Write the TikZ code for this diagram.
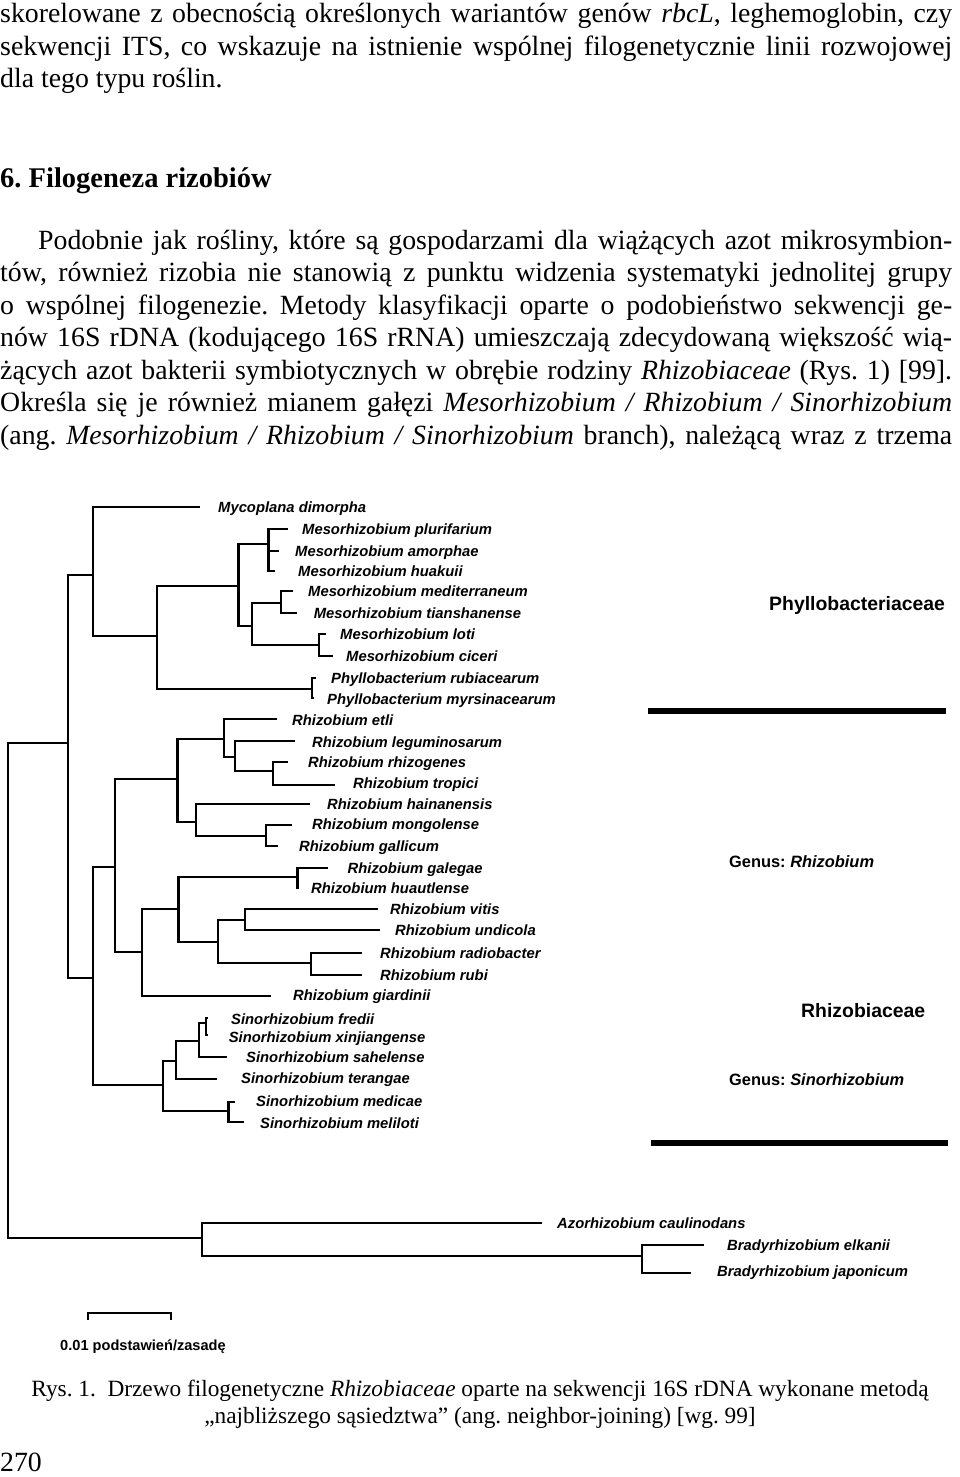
\documentclass[tikz,border=0pt]{standalone}
\usepackage{fontspec}
\setmainfont{Liberation Serif}
\newfontfamily\taxfont{Liberation Sans}
\usetikzlibrary{positioning}
\frenchspacing

\begin{document}
\begin{tikzpicture}[x=1pt, y=-1pt,
        bodyline/.style={anchor=base west, inner sep=0pt, font=\fontsize{27.8}{33}\selectfont},
        capline/.style={anchor=base, inner sep=0pt, font=\fontsize{23.3}{28}\selectfont},
        branch/.style={line width=2.9pt},
        taxon/.style={anchor=base west, inner sep=0pt, yshift=-5.3pt, font=\taxfont\bfseries\itshape\fontsize{14.8}{16}\selectfont},
        family/.style={anchor=base west, inner sep=0pt, font=\taxfont\bfseries\fontsize{19.4}{22}\selectfont},
        genus/.style={anchor=base west, inner sep=0pt, font=\taxfont\bfseries\fontsize{16.4}{19}\selectfont},
        bar/.style={line width=6pt}]
        \useasboundingbox (0,0) rectangle (960,1477);

        % text above the figure
        \node[bodyline] (t1) at (0,23) {\makebox[952pt][s]{skorelowane z obecnością określonych wariantów genów \textit{rbcL}, leghemoglobin, czy}};
        \node[bodyline] (t2) at (0,55.5) {\makebox[952pt][s]{sekwencji ITS, co wskazuje na istnienie wspólnej filogenetycznie linii rozwojowej}};
        \node[bodyline] (t3) at (0,88) {dla tego typu roślin.};
        \node[bodyline, font=\bfseries\fontsize{28.5}{34}\selectfont] (head) at (0,187) {6. Filogeneza rizobiów};
        \node[bodyline] (p1) at (38,249) {\makebox[914pt][s]{Podobnie jak rośliny, które są gospodarzami dla wiążących azot mikrosymbion-}};
        \node[bodyline] (p2) at (0,281.5) {\makebox[952pt][s]{tów, również rizobia nie stanowią z punktu widzenia systematyki jednolitej grupy}};
        \node[bodyline] (p3) at (0,314) {\makebox[952pt][s]{o wspólnej filogenezie. Metody klasyfikacji oparte o podobieństwo sekwencji ge-}};
        \node[bodyline] (p4) at (0,346.5) {\makebox[952pt][s]{nów 16S rDNA (kodującego 16S rRNA) umieszczają zdecydowaną większość wią-}};
        \node[bodyline] (p5) at (0,379) {\makebox[952pt][s]{żących azot bakterii symbiotycznych w obrębie rodziny \textit{Rhizobiaceae} (Rys. 1) [99].}};
        \node[bodyline] (p6) at (0,411.5) {\makebox[952pt][s]{Określa się je również mianem gałęzi \textit{Mesorhizobium / Rhizobium / Sinorhizobium}}};
        \node[bodyline] (p7) at (0,444) {\makebox[952pt][s]{(ang. \textit{Mesorhizobium / Rhizobium / Sinorhizobium} branch), należącą wraz z trzema}};

        % inner nodes of the tree
        \coordinate (root) at (8,990);
        \coordinate (nJ) at (68,743);
        \coordinate (nA) at (93,575);
        \coordinate (nB) at (157,636);
        \coordinate (nC) at (238.6,586);
        \coordinate (nD) at (268.6,544);
        \coordinate (nF) at (252,626);
        \coordinate (nG) at (281,603);
        \coordinate (nH) at (319,645);
        \coordinate (nI) at (312,689);
        \coordinate (nK) at (93,978);
        \coordinate (nL) at (115,867);
        \coordinate (nM) at (177.5,779);
        \coordinate (nN) at (224,739);
        \coordinate (nO) at (235,757);
        \coordinate (nP) at (273,771);
        \coordinate (nQ) at (196,822);
        \coordinate (nR) at (266,836);
        \coordinate (nS) at (142,952);
        \coordinate (nT) at (178.6,909);
        \coordinate (nU) at (297.5,877);
        \coordinate (nV) at (218,942);
        \coordinate (nW) at (245,920);
        \coordinate (nX) at (311,963);
        \coordinate (nY) at (163,1085);
        \coordinate (nZ) at (176,1061);
        \coordinate (nAA) at (199,1041);
        \coordinate (nAB) at (206,1023);
        \coordinate (nAC) at (228.6,1111);
        \coordinate (nAD) at (202,1238);
        \coordinate (nAE) at (642,1256);

        % leaves and their names
        \coordinate (myco) at (200,507); \node[taxon] (myco-l) at (218,507) {Mycoplana dimorpha};
        \coordinate (plur) at (287.5,529); \node[taxon] (plur-l) at (302,529) {Mesorhizobium plurifarium};
        \coordinate (amor) at (278.6,551); \node[taxon] (amor-l) at (295,551) {Mesorhizobium amorphae};
        \coordinate (huak) at (275,571); \node[taxon] (huak-l) at (298,571) {Mesorhizobium huakuii};
        \coordinate (medi) at (293,591); \node[taxon] (medi-l) at (308,591) {Mesorhizobium mediterraneum};
        \coordinate (tian) at (297,613); \node[taxon] (tian-l) at (313.6,613) {Mesorhizobium tianshanense};
        \coordinate (loti) at (325.7,634); \node[taxon] (loti-l) at (340,634) {Mesorhizobium loti};
        \coordinate (cice) at (333,656); \node[taxon] (cice-l) at (346,656) {Mesorhizobium ciceri};
        \coordinate (rubia) at (316,678); \node[taxon] (rubia-l) at (331,678) {Phyllobacterium rubiacearum};
        \coordinate (myrs) at (314,698); \node[taxon] (myrs-l) at (327,699) {Phyllobacterium myrsinacearum};
        \coordinate (etli) at (277,719); \node[taxon] (etli-l) at (292,720) {Rhizobium etli};
        \coordinate (legu) at (295,741); \node[taxon] (legu-l) at (312,742) {Rhizobium leguminosarum};
        \coordinate (rhizo) at (287.5,762); \node[taxon] (rhizo-l) at (308,762) {Rhizobium rhizogenes};
        \coordinate (trop) at (335,785); \node[taxon] (trop-l) at (353,783) {Rhizobium tropici};
        \coordinate (hain) at (310,804); \node[taxon] (hain-l) at (327,804) {Rhizobium hainanensis};
        \coordinate (mong) at (292,825); \node[taxon] (mong-l) at (312,824) {Rhizobium mongolense};
        \coordinate (gall) at (278,846); \node[taxon] (gall-l) at (299,846) {Rhizobium gallicum};
        \coordinate (gale) at (328,868); \node[taxon] (gale-l) at (347.5,868) {Rhizobium galegae};
        \coordinate (huau) at (299,888); \node[taxon] (huau-l) at (311,888) {Rhizobium huautlense};
        \coordinate (viti) at (377.5,909); \node[taxon] (viti-l) at (390,909) {Rhizobium vitis};
        \coordinate (undi) at (380,930); \node[taxon] (undi-l) at (395,930) {Rhizobium undicola};
        \coordinate (radi) at (362,953); \node[taxon] (radi-l) at (380,953) {Rhizobium radiobacter};
        \coordinate (rubi) at (362,975); \node[taxon] (rubi-l) at (380,975) {Rhizobium rubi};
        \coordinate (giar) at (271,996); \node[taxon] (giar-l) at (293,995) {Rhizobium giardinii};
        \coordinate (fred) at (208,1018); \node[taxon] (fred-l) at (231,1019) {Sinorhizobium fredii};
        \coordinate (xinj) at (208,1035); \node[taxon] (xinj-l) at (228.6,1037) {Sinorhizobium xinjiangense};
        \coordinate (sahe) at (227,1057); \node[taxon] (sahe-l) at (246,1057) {Sinorhizobium sahelense};
        \coordinate (tera) at (217,1079); \node[taxon] (tera-l) at (241,1078) {Sinorhizobium terangae};
        \coordinate (medc) at (235,1102); \node[taxon] (medc-l) at (256,1101) {Sinorhizobium medicae};
        \coordinate (meli) at (244,1122); \node[taxon] (meli-l) at (260,1123) {Sinorhizobium meliloti};
        \coordinate (azor) at (542,1223); \node[taxon] (azor-l) at (557,1223) {Azorhizobium caulinodans};
        \coordinate (elka) at (704,1245); \node[taxon] (elka-l) at (727,1245) {Bradyrhizobium elkanii};
        \coordinate (japo) at (691,1273); \node[taxon] (japo-l) at (717,1271) {Bradyrhizobium japonicum};

        % branches
        \draw[branch] (root) |- (nJ);
        \draw[branch] (root) |- (nAD);
        \draw[branch] (nJ) |- (nA);
        \draw[branch] (nJ) |- (nK);
        \draw[branch] (nA) |- (myco);
        \draw[branch] (nA) |- (nB);
        \draw[branch] (nB) |- (nC);
        \draw[branch] (nB) |- (nI);
        \draw[branch] (nC) |- (nD);
        \draw[branch] (nC) |- (nF);
        \draw[branch] (nD) |- (plur);
        \draw[branch] (nD) |- (amor);
        \draw[branch] (nD) |- (huak);
        \draw[branch] (nF) |- (nG);
        \draw[branch] (nF) |- (nH);
        \draw[branch] (nG) |- (medi);
        \draw[branch] (nG) |- (tian);
        \draw[branch] (nH) |- (loti);
        \draw[branch] (nH) |- (cice);
        \draw[branch] (nI) |- (rubia);
        \draw[branch] (nI) |- (myrs);
        \draw[branch] (nK) |- (nL);
        \draw[branch] (nK) |- (nY);
        \draw[branch] (nL) |- (nM);
        \draw[branch] (nL) |- (nS);
        \draw[branch] (nM) |- (nN);
        \draw[branch] (nM) |- (nQ);
        \draw[branch] (nN) |- (etli);
        \draw[branch] (nN) |- (nO);
        \draw[branch] (nO) |- (legu);
        \draw[branch] (nO) |- (nP);
        \draw[branch] (nP) |- (rhizo);
        \draw[branch] (nP) |- (trop);
        \draw[branch] (nQ) |- (hain);
        \draw[branch] (nQ) |- (nR);
        \draw[branch] (nR) |- (mong);
        \draw[branch] (nR) |- (gall);
        \draw[branch] (nS) |- (nT);
        \draw[branch] (nS) |- (giar);
        \draw[branch] (nT) |- (nU);
        \draw[branch] (nT) |- (nV);
        \draw[branch] (nU) |- (gale);
        \draw[branch] (nU) |- (huau);
        \draw[branch] (nV) |- (nW);
        \draw[branch] (nV) |- (nX);
        \draw[branch] (nW) |- (viti);
        \draw[branch] (nW) |- (undi);
        \draw[branch] (nX) |- (radi);
        \draw[branch] (nX) |- (rubi);
        \draw[branch] (nY) |- (nZ);
        \draw[branch] (nY) |- (nAC);
        \draw[branch] (nZ) |- (nAA);
        \draw[branch] (nZ) |- (tera);
        \draw[branch] (nAA) |- (nAB);
        \draw[branch] (nAA) |- (sahe);
        \draw[branch] (nAB) |- (fred);
        \draw[branch] (nAB) |- (xinj);
        \draw[branch] (nAC) |- (medc);
        \draw[branch] (nAC) |- (meli);
        \draw[branch] (nAD) |- (azor);
        \draw[branch] (nAD) |- (nAE);
        \draw[branch] (nAE) |- (elka);
        \draw[branch] (nAE) |- (japo);

        % groups on the right
        \node[family] (phyl) at (769,610) {Phyllobacteriaceae};
        \coordinate (b1l) at (648,711); \coordinate (b1r) at (946,711);
        \draw[bar] (b1l) -- (b1r);
        \node[genus] (grhi) at (729,867) {Genus: \textit{Rhizobium}};
        \node[family] (rhiz) at (801,1017) {Rhizobiaceae};
        \node[genus] (gsin) at (729,1085) {Genus: \textit{Sinorhizobium}};
        \coordinate (b2l) at (651,1143); \coordinate (b2r) at (948,1143);
        \draw[bar] (b2l) -- (b2r);

        % scale
        \coordinate (sbl) at (88,1320); \coordinate (sbr) at (171,1320);
        \draw[branch, line width=2.2pt] (sbl) -- ++(0,-7) -| (sbr);
        \node[anchor=base, inner sep=0pt, font=\taxfont\bfseries\fontsize{14.6}{17}\selectfont] (sbt) at (143,1350) {0.01 podstawień/zasadę};

        % caption and page number
        \node[capline] (c1) at (480,1396) {Rys. 1.\ \ Drzewo filogenetyczne \textit{Rhizobiaceae} oparte na sekwencji 16S rDNA wykonane metodą};
        \node[capline] (c2) at (480,1423) {„najbliższego sąsiedztwa” (ang. neighbor-joining) [wg. 99]};
        \node[bodyline] (pg) at (0,1471) {270};
\end{tikzpicture}
\end{document}
